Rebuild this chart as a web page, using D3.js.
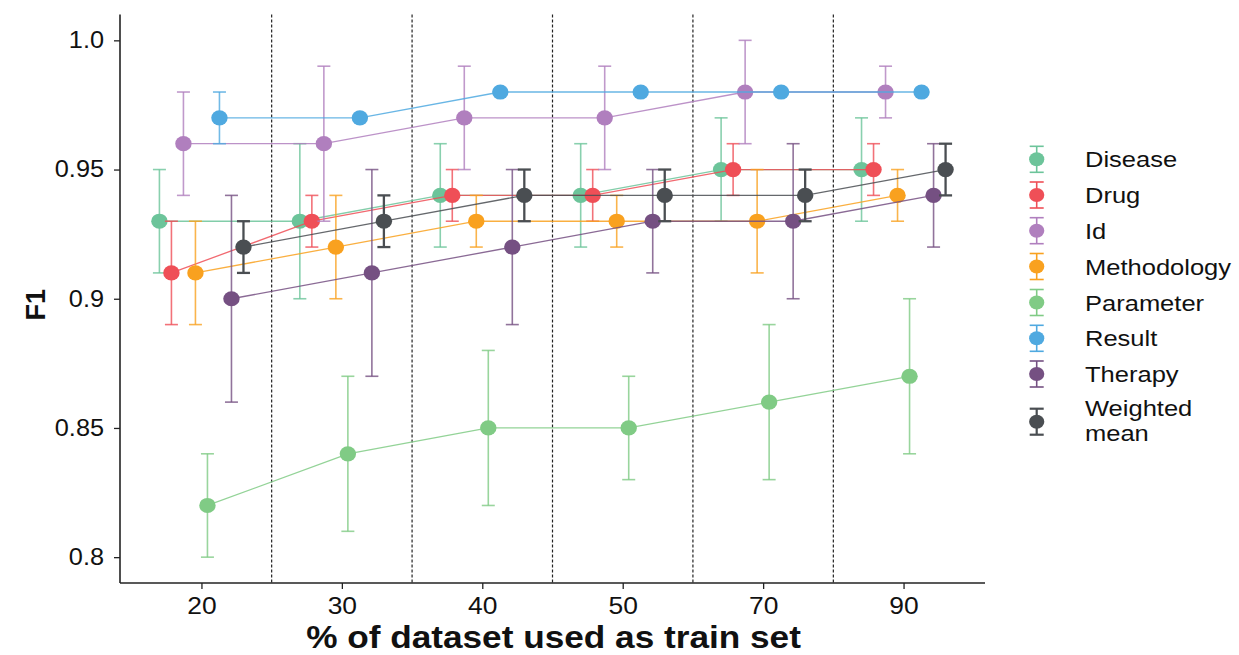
<!DOCTYPE html>
<html>
<head>
<meta charset="utf-8">
<script src="https://cdn.jsdelivr.net/npm/d3@7"></script>
<style>
  html, body { margin: 0; padding: 0; background: #fff; }
  text { font-family: "Liberation Sans", Arial, sans-serif; fill: #111; }
</style>
</head>
<body>
<svg id="chart" width="1239" height="655"></svg>
<script>
// ---------- data ----------
const categories = ["20", "30", "40", "50", "70", "90"];
const seriesNames = ["Disease", "Drug", "Id", "Methodology", "Parameter", "Result", "Therapy", "Weighted mean"];
const seriesColors = ["#6cc49a", "#ef4f57", "#b07fbe", "#f9a11f", "#80cb85", "#4fa9e0", "#755082", "#4a4e52"];
const yTicks = [0.8, 0.85, 0.9, 0.95, 1.0];
const yTickLabels = ["0.8", "0.85", "0.9", "0.95", "1.0"];

const diseaseF1   = [0.93, 0.93, 0.94, 0.94, 0.95, 0.95];
const diseaseLow  = [0.91, 0.90, 0.92, 0.92, 0.93, 0.93];
const diseaseHigh = [0.95, 0.96, 0.96, 0.96, 0.97, 0.97];

const drugF1   = [0.91, 0.93, 0.94, 0.94, 0.95, 0.95];
const drugLow  = [0.89, 0.92, 0.93, 0.93, 0.94, 0.94];
const drugHigh = [0.93, 0.94, 0.95, 0.95, 0.96, 0.96];

const idF1   = [0.96, 0.96, 0.97, 0.97, 0.98, 0.98];
const idLow  = [0.94, 0.93, 0.95, 0.95, 0.96, 0.97];
const idHigh = [0.98, 0.99, 0.99, 0.99, 1.00, 0.99];

const methodologyF1   = [0.91, 0.92, 0.93, 0.93, 0.93, 0.94];
const methodologyLow  = [0.89, 0.90, 0.92, 0.92, 0.91, 0.93];
const methodologyHigh = [0.93, 0.94, 0.94, 0.94, 0.95, 0.95];

const parameterF1   = [0.82, 0.84, 0.85, 0.85, 0.86, 0.87];
const parameterLow  = [0.80, 0.81, 0.82, 0.83, 0.83, 0.84];
const parameterHigh = [0.84, 0.87, 0.88, 0.87, 0.89, 0.90];

const resultF1   = [0.97, 0.97, 0.98, 0.98, 0.98, 0.98];
const resultLow  = [0.96, 0.97, 0.98, 0.98, 0.98, 0.98];
const resultHigh = [0.98, 0.97, 0.98, 0.98, 0.98, 0.98];

const therapyF1   = [0.90, 0.91, 0.92, 0.93, 0.93, 0.94];
const therapyLow  = [0.86, 0.87, 0.89, 0.91, 0.90, 0.92];
const therapyHigh = [0.94, 0.95, 0.95, 0.95, 0.96, 0.96];

const weightedF1   = [0.92, 0.93, 0.94, 0.94, 0.94, 0.95];
const weightedLow  = [0.91, 0.92, 0.93, 0.93, 0.93, 0.94];
const weightedHigh = [0.93, 0.94, 0.95, 0.95, 0.95, 0.96];

const seriesValues = [diseaseF1, drugF1, idF1, methodologyF1, parameterF1, resultF1, therapyF1, weightedF1];
const seriesLow    = [diseaseLow, drugLow, idLow, methodologyLow, parameterLow, resultLow, therapyLow, weightedLow];
const seriesHigh   = [diseaseHigh, drugHigh, idHigh, methodologyHigh, parameterHigh, resultHigh, therapyHigh, weightedHigh];

(function () {
// ---------- layout ----------
const svg = d3.select("#chart");
const mLeft = 120, mRight = 985, mTop = 14.5, mBottom = 583;
const SX = 1.1; // horizontal stretch of glyphs in the reference

const x = d3.scaleLinear().domain([-0.58, categories.length - 1 + 0.58]).range([mLeft, mRight]);
const y = d3.scaleLinear().domain([0.79, 1.01]).range([mBottom, mTop]);
const dodge = 0.0855; // in category units

const series = seriesNames.map((name, i) => ({
  name, color: seriesColors[i],
  pts: categories.map((c, j) => ({
    xi: j + (i - 3.5) * dodge, v: seriesValues[i][j], lo: seriesLow[i][j], hi: seriesHigh[i][j]
  }))
}));

// dashed separators
svg.append("g").selectAll("line")
  .data(d3.range(categories.length - 1).map(d => d + 0.5))
  .join("line")
  .attr("x1", d => x(d)).attr("x2", d => x(d))
  .attr("y1", mTop).attr("y2", mBottom)
  .attr("stroke", "#222").attr("stroke-width", 1.2)
  .attr("stroke-dasharray", "3,2");

// series
const capHalf = 6.5;
const plot = svg.append("g");
series.forEach((s, i) => {
  const g = plot.append("g");
  const isW = i === 7;
  g.append("path")
    .datum(s.pts)
    .attr("fill", "none")
    .attr("stroke", s.color)
    .attr("stroke-opacity", 0.85)
    .attr("stroke-width", 1.3)
    .attr("d", d3.line().x(d => x(d.xi)).y(d => y(d.v)));
  const eb = s.pts.filter(d => d.hi - d.lo > 1e-9);
  const bw = isW ? 2.3 : 1.6;
  const bo = isW ? 1 : 0.8;
  g.selectAll("line.v").data(eb).join("line")
    .attr("x1", d => x(d.xi)).attr("x2", d => x(d.xi))
    .attr("y1", d => y(d.lo)).attr("y2", d => y(d.hi))
    .attr("stroke", s.color).attr("stroke-width", bw).attr("stroke-opacity", bo);
  ["lo", "hi"].forEach(k => {
    g.selectAll("line.c" + k).data(eb).join("line").attr("class", "c" + k)
      .attr("x1", d => x(d.xi) - capHalf).attr("x2", d => x(d.xi) + capHalf)
      .attr("y1", d => y(d[k])).attr("y2", d => y(d[k]))
      .attr("stroke", s.color).attr("stroke-width", bw).attr("stroke-opacity", bo);
  });
  g.selectAll("ellipse").data(s.pts).join("ellipse")
    .attr("cx", d => x(d.xi)).attr("cy", d => y(d.v))
    .attr("rx", 8.2).attr("ry", 7.6)
    .attr("fill", s.color);
});

// axes
const yAxis = d3.axisLeft(y).tickValues(yTicks).tickFormat((d, i) => yTickLabels[i]).tickSize(6).tickPadding(10);
const gy = svg.append("g").attr("transform", `translate(${mLeft},0)`).call(yAxis);
gy.select(".domain").attr("d", `M-0,${mTop}V${mBottom}`).attr("stroke", "#222").attr("stroke-width", 1.6);
gy.selectAll(".tick line").attr("stroke", "#222").attr("stroke-width", 1.3);
gy.selectAll(".tick text").attr("font-size", 23).attr("fill", "#111")
  .attr("font-family", "Liberation Sans, Arial, sans-serif")
  .attr("transform", function () { const xx = +d3.select(this).attr("x"); return `translate(${xx * (1 - SX)},0) scale(${SX},1)`; });

const xAxis = d3.axisBottom(x).tickValues(d3.range(categories.length)).tickFormat(i => categories[i]).tickSize(6).tickPadding(8);
const gx = svg.append("g").attr("transform", `translate(0,${mBottom})`).call(xAxis);
gx.select(".domain").attr("d", `M${mLeft},0H${mRight}`).attr("stroke", "#222").attr("stroke-width", 1.6);
gx.selectAll(".tick line").attr("stroke", "#222").attr("stroke-width", 1.3);
gx.selectAll(".tick text").attr("font-size", 24).attr("fill", "#111")
  .attr("font-family", "Liberation Sans, Arial, sans-serif")
  .attr("transform", `scale(${SX},1)`);

// axis titles
svg.append("text")
  .attr("transform", `translate(${(mLeft + mRight) / 2 + 1},${648}) scale(${SX},1)`)
  .attr("text-anchor", "middle")
  .attr("font-size", 32).attr("font-weight", "bold")
  .text("% of dataset used as train set");

svg.append("text")
  .attr("transform", `translate(45,${(mTop + mBottom) / 2 + 6}) rotate(-90)`)
  .attr("text-anchor", "middle")
  .attr("font-size", 27).attr("font-weight", "bold")
  .text("F1");

// legend
const legX = 1036.7, legTextX = 1085;
const legY = [159.3, 195, 230.7, 266.5, 302.5, 338.3, 374, 421.7];
const leg = svg.append("g");
series.forEach((s, i) => {
  const g = leg.append("g").attr("transform", `translate(${legX},${legY[i]})`);
  const bw = i === 7 ? 2.2 : 1.6;
  g.append("line").attr("x1", 0).attr("x2", 0).attr("y1", -13).attr("y2", 13).attr("stroke", s.color).attr("stroke-width", bw);
  [-13, 13].forEach(yy => g.append("line").attr("x1", -7).attr("x2", 7).attr("y1", yy).attr("y2", yy).attr("stroke", s.color).attr("stroke-width", bw));
  g.append("ellipse").attr("rx", 7.6).attr("ry", 7).attr("fill", s.color);
  if (i < 7) {
    leg.append("text").attr("transform", `translate(${legTextX},${legY[i] + 8}) scale(1.16,1)`)
      .attr("font-size", 22).text(s.name);
  } else {
    leg.append("text").attr("transform", `translate(${legTextX},${legY[i] - 6}) scale(1.16,1)`)
      .attr("font-size", 22).text("Weighted");
    leg.append("text").attr("transform", `translate(${legTextX},${legY[i] + 19}) scale(1.16,1)`)
      .attr("font-size", 22).text("mean");
  }
});
})();
</script>
</body>
</html>
